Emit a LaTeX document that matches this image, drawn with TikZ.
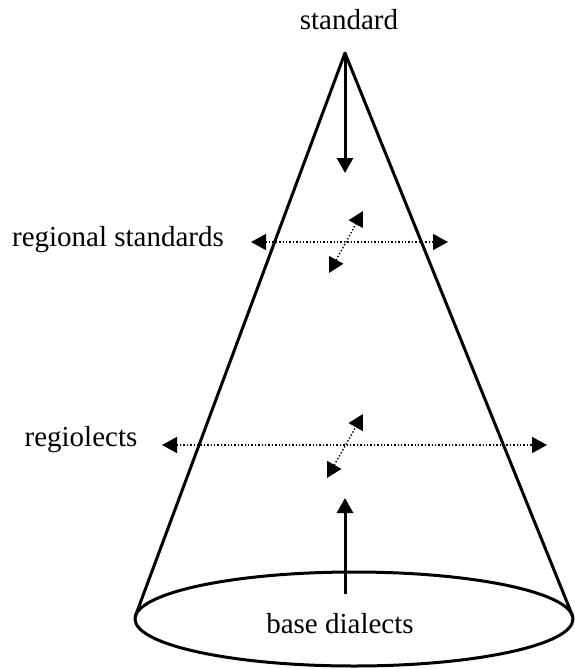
\documentclass[tikz,border=0pt]{standalone}
\usepackage{fontspec}
\setmainfont{Liberation Serif}
\usetikzlibrary{arrows.meta}

\begin{document}
\begin{tikzpicture}[x=1pt, y=-1pt,
    label/.style={font=\fontsize{29}{34}\selectfont, inner sep=0pt},
    cone/.style={line width=3pt, line join=round},
    main/.style={line width=3pt, -{Triangle[length=15pt, width=16pt]}},
    link/.style={line width=1.4pt, dotted,
        {Triangle[length=15pt, width=16pt]}-{Triangle[length=15pt, width=16pt]}}
]
    \useasboundingbox (0,0) rectangle (575,669);
    % cone
    \coordinate (top) at (345,53);
    \coordinate (bl) at (135,617);
    \coordinate (br) at (573,617);
    \draw[cone] (bl) -- (top) -- (br);
    \draw[cone] (354,619) ellipse [x radius=219, y radius=47];
    % labels
    \node[label] (std) at (349,20) {standard};
    \node[label] (reg) at (118,240) {regional standards};
    \node[label] (rl) at (81,440) {regiolects};
    \node[label] (base) at (340,624) {base dialects};
    % arrows
    \coordinate (d1) at (345,173);
    \draw[main] (top) -- (d1);
    \coordinate (u0) at (345,594);
    \coordinate (u1) at (345,498);
    \draw[main] (u0) -- (u1);
    \coordinate (rl1) at (251,242);
    \coordinate (rr1) at (448,242);
    \draw[link] (rl1) -- (rr1);
    \coordinate (rd1) at (329,273);
    \coordinate (ru1) at (363,211);
    \draw[link] (rd1) -- (ru1);
    \coordinate (rl2) at (162,445);
    \coordinate (rr2) at (547,445);
    \draw[link] (rl2) -- (rr2);
    \coordinate (rd2) at (327,478);
    \coordinate (ru2) at (363,414);
    \draw[link] (rd2) -- (ru2);
\end{tikzpicture}
\end{document}
